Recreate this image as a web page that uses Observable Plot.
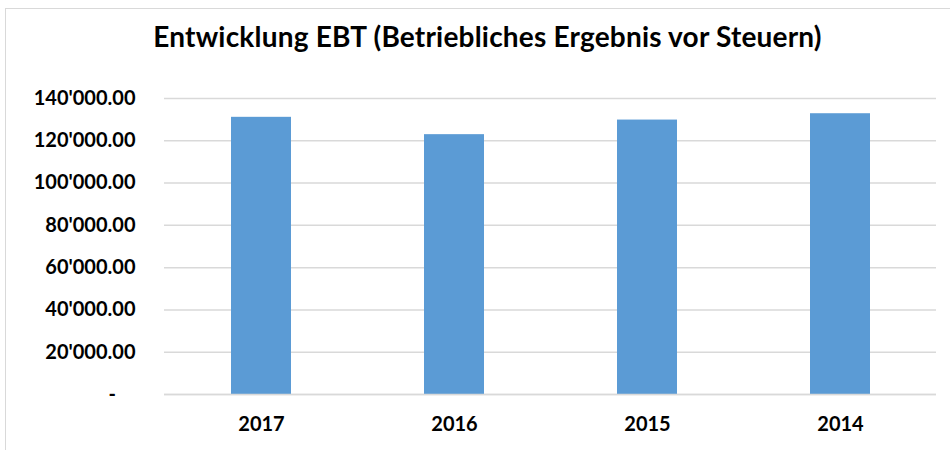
<!DOCTYPE html>
<html>
<head>
<meta charset="utf-8">
<script src="https://cdn.jsdelivr.net/npm/d3@7"></script>
<script src="https://cdn.jsdelivr.net/npm/@observablehq/plot@0.6"></script>
<style>
  html, body { margin: 0; padding: 0; background: #fff; }
  #frame { position: absolute; left: 5px; top: 8px; width: 950px; height: 450px; border: 1px solid #d9d9d9; box-sizing: border-box; }
  #title { position: absolute; left: 0; top: 19px; width: 975px; text-align: center; font-family: Lato, sans-serif; font-weight: bold; font-size: 28px; letter-spacing: 0.2px; color: #000; }
  #chart { position: absolute; left: 0; top: 60px; }
</style>
</head>
<body>
<div id="frame"></div>
<div id="title">Entwicklung EBT (Betriebliches Ergebnis vor Steuern)</div>
<div id="chart"></div>
<script>
const years = ["2017", "2016", "2015", "2014"];
const ebt = [131100, 122900, 129800, 132800];
const yTicks = [0, 20000, 40000, 60000, 80000, 100000, 120000, 140000];

const data = years.map((y, i) => ({year: y, value: ebt[i]}));

const fmt = v => v === 0 ? "-\u00a0\u00a0\u00a0\u00a0" :
  d3.format(",.2f")(v).replace(/,/g, "'");

const chart = Plot.plot({
  width: 950,
  height: 390,
  marginTop: 38,
  marginBottom: 56,
  marginLeft: 164,
  marginRight: 14,
  style: {fontFamily: "Lato, sans-serif", fontWeight: "bold", fontSize: "20px", color: "#000", background: "transparent"},
  x: {domain: years, paddingInner: 0.69, paddingOuter: 0.345, label: null},
  y: {domain: [0, 140000], label: null},
  marks: [
    Plot.gridY(yTicks, {stroke: "#d9d9d9", strokeOpacity: 1, strokeWidth: 1.5}),
    Plot.barY(data, {x: "year", y: "value", fill: "#5b9bd5"}),
    Plot.ruleY([0], {stroke: "#d9d9d9", strokeWidth: 1.5}),
    Plot.axisY(yTicks, {tickSize: 0, tickPadding: 29, tickFormat: fmt, fontSize: 20, fontWeight: "bold"}),
    Plot.axisX({tickSize: 0, tickPadding: 22, fontSize: 20, fontWeight: "bold"})
  ]
});
document.getElementById("chart").appendChild(chart);
</script>
</body>
</html>
